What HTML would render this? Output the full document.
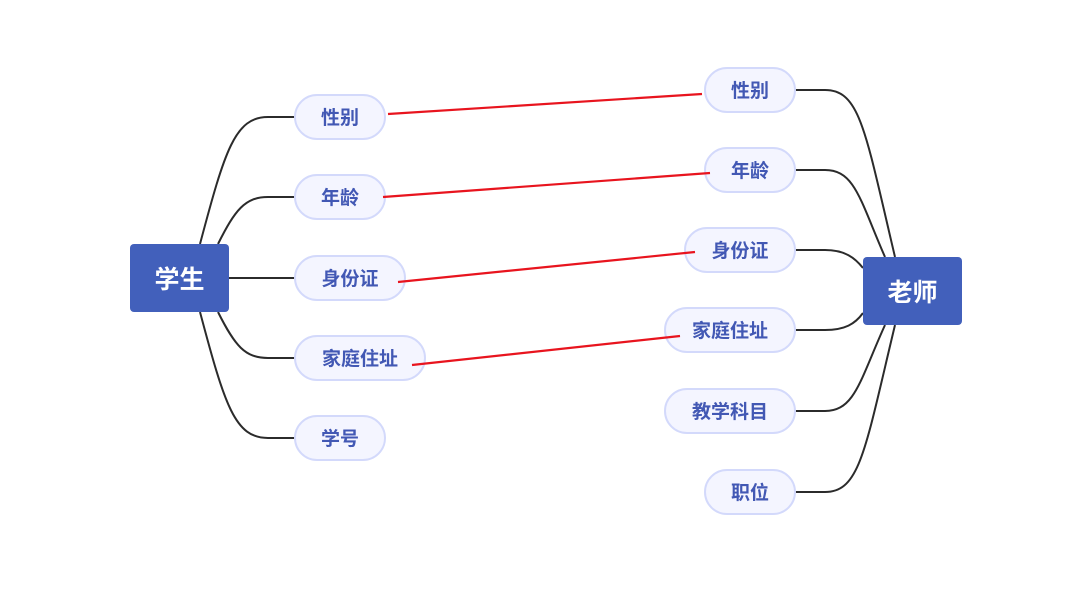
<!DOCTYPE html>
<html><head><meta charset="utf-8"><style>
body{margin:0;background:#fff;}
svg text{font-family:"Liberation Sans","Noto Sans CJK SC",sans-serif;font-weight:bold;}
</style></head><body>
<svg width="1079" height="591" viewBox="0 0 1079 591" xmlns="http://www.w3.org/2000/svg">
<g fill="none" stroke="#2b2b2b" stroke-width="2">
<path d="M200 244 C225 150 235 117 268 117 L295 117"/>
<path d="M218 244 C235 210 245 197 268 197 L295 197"/>
<path d="M229 278 L295 278"/>
<path d="M218 312 C235 346 245 358 268 358 L295 358"/>
<path d="M200 312 C225 406 235 438 268 438 L295 438"/>
<path d="M795 90 L825 90 C860 90 865 130 895 257"/>
<path d="M795 170 L825 170 C855 170 860 200 885 257"/>
<path d="M795 250 L825 250 C845 250 855 258 863 268"/>
<path d="M795 330 L825 330 C845 330 855 324 863 313"/>
<path d="M795 411 L825 411 C855 411 860 380 885 325"/>
<path d="M795 492 L825 492 C860 492 865 450 895 325"/>
</g>
<rect x="130" y="244" width="99" height="68" rx="4" fill="#4260bb"/>
<text x="179.5" y="288" text-anchor="middle" fill="#fff" font-size="25">学生</text>
<rect x="863" y="257" width="99" height="68" rx="4" fill="#4260bb"/>
<text x="912.5" y="301" text-anchor="middle" fill="#fff" font-size="25">老师</text>
<g fill="#f4f5ff" stroke="#d3d9fb" stroke-width="2">
<rect x="295" y="95" width="90" height="44" rx="22"/>
<rect x="295" y="175" width="90" height="44" rx="22"/>
<rect x="295" y="256" width="110" height="44" rx="22"/>
<rect x="295" y="336" width="130" height="44" rx="22"/>
<rect x="295" y="416" width="90" height="44" rx="22"/>
<rect x="705" y="68" width="90" height="44" rx="22"/>
<rect x="705" y="148" width="90" height="44" rx="22"/>
<rect x="685" y="228" width="110" height="44" rx="22"/>
<rect x="665" y="308" width="130" height="44" rx="22"/>
<rect x="665" y="389" width="130" height="44" rx="22"/>
<rect x="705" y="470" width="90" height="44" rx="22"/>
</g>
<g stroke="#e8141e" stroke-width="2.2">
<line x1="388" y1="114" x2="702" y2="94"/>
<line x1="383" y1="197" x2="710" y2="173"/>
<line x1="398" y1="282" x2="695" y2="252"/>
<line x1="412" y1="365" x2="680" y2="336"/>
</g>
<g fill="#4258b4" font-size="19" text-anchor="middle">
<text x="340" y="124">性别</text>
<text x="340" y="204">年龄</text>
<text x="350" y="285">身份证</text>
<text x="360" y="365">家庭住址</text>
<text x="340" y="445">学号</text>
<text x="750" y="97">性别</text>
<text x="750" y="177">年龄</text>
<text x="740" y="257">身份证</text>
<text x="730" y="337">家庭住址</text>
<text x="730" y="418">教学科目</text>
<text x="750" y="499">职位</text>
</g>
</svg>
</body></html>
